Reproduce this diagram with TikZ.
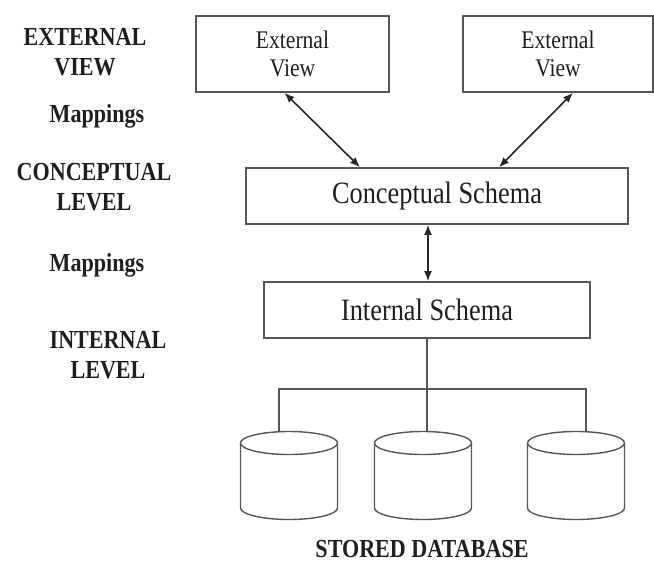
\documentclass[tikz,border=0pt]{standalone}
\usepackage{fontspec}
\setmainfont[FakeStretch=0.85]{Liberation Serif}
\usetikzlibrary{arrows.meta,positioning}
\definecolor{edgegray}{HTML}{555555}
\definecolor{inkgray}{HTML}{1e1e1e}
\tikzset{
    x=1pt,y=-1pt,
    box/.style ={rectangle, draw=edgegray, line width=1.6pt, align=center, text=inkgray,
                 font=\fontsize{25.4pt}{28pt}\selectfont},
    schema/.style ={box, font=\fontsize{31pt}{34pt}\selectfont},
    lvl/.style ={align=center, anchor=base, text=inkgray, inner sep=0pt,
                 font=\bfseries\fontsize{26pt}{30pt}\selectfont},
    dbline/.style={draw=edgegray, line width=1.4pt, fill=white},
    link/.style={{Latex[length=10pt,width=8pt]}-{Latex[length=10pt,width=8pt]}, draw=black!85, line width=1.6pt},
    wire/.style={draw=edgegray, line width=1.4pt}
}

\begin{document}
\begin{tikzpicture}
    \useasboundingbox (0,0) rectangle (654,562);
    % the three levels
    \node[box, minimum width=193pt, minimum height=76pt] (ext1) at (292.5,54) {External\\View};
    \node[box, minimum width=190pt, minimum height=76pt] (ext2) at (558,54) {External\\View};
    \node[schema, minimum width=382pt, minimum height=56pt] (concept) at (437,196) {Conceptual Schema};
    \node[schema, minimum width=326pt, minimum height=56pt] (internal) at (427,310) {Internal Schema};
    % stored database
    \foreach \n/\cx in {db1/289,db2/423,db3/576}{
        \coordinate (\n) at (\cx,432);
        \draw[dbline] (\cx-48.5,443) -- (\cx-48.5,508)
            arc[start angle=180, end angle=360, x radius=48.5pt, y radius=11.5pt] -- (\cx+48.5,443);
        \draw[dbline] (\cx,443) ellipse [x radius=48.5pt, y radius=11.5pt];
    }
    \node[lvl] (stored) at (422,557) {STORED DATABASE};
    % labels on the left
    \node[lvl] (lblext) at (85,75) {EXTERNAL\\VIEW};
    \node[lvl] (lblmap1) at (97,122) {Mappings};
    \node[lvl] (lblconc) at (94,210) {CONCEPTUAL\\LEVEL};
    \node[lvl] (lblmap2) at (97,271) {Mappings};
    \node[lvl] (lblint) at (108,378) {INTERNAL\\LEVEL};
    % mappings
    \draw[link] ([xshift=-8pt]ext1.south) -- ([xshift=-77pt]concept.north);
    \draw[link] ([xshift=15pt]ext2.south) -- ([xshift=62pt]concept.north);
    \draw[link] ([xshift=-9pt]concept.south) -- ([xshift=-9pt]concept.south |- internal.north);
    % connection to the stored files
    \coordinate (bus) at (427,389);
    \draw[wire] (internal.south) -- ([xshift=4pt]db2);
    \draw[wire] ([xshift=-10pt]db1) |- (bus) -| ([xshift=10pt]db3);
\end{tikzpicture}
\end{document}
